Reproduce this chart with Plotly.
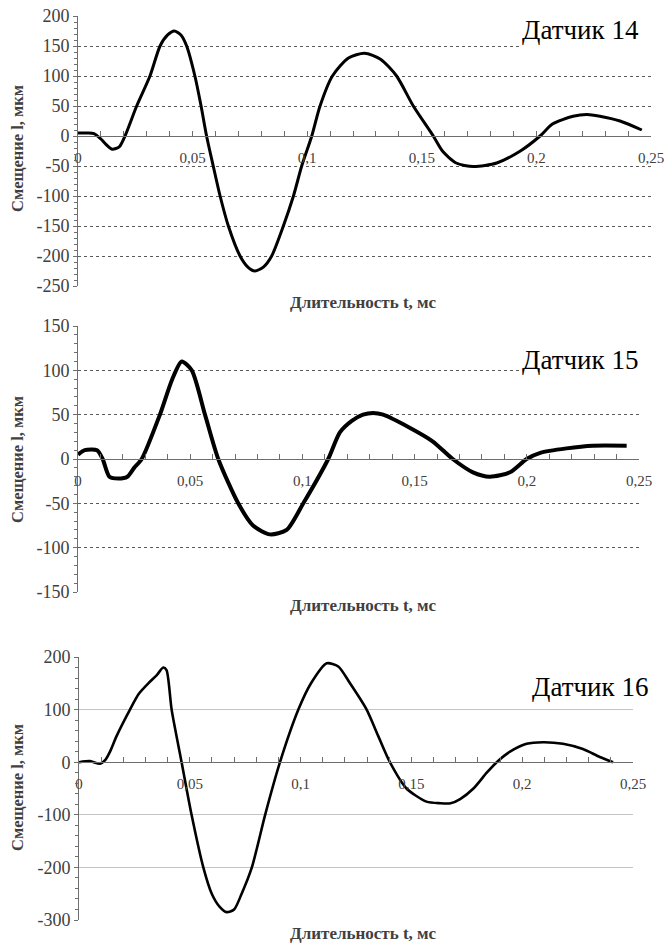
import plotly.graph_objects as go

# ---------------- data ----------------
t14 = [0, 0.004, 0.007, 0.010, 0.0125, 0.015, 0.018, 0.0205, 0.0256, 0.0314, 0.0358, 0.039,
       0.042, 0.045, 0.0474, 0.051, 0.0537, 0.0561, 0.059, 0.062, 0.0656, 0.0707, 0.074, 0.0772,
       0.081, 0.0845, 0.0896, 0.094, 0.0976, 0.102, 0.1056, 0.111, 0.118, 0.125, 0.132, 0.139,
       0.1463, 0.155, 0.159, 0.165, 0.1725, 0.1827, 0.193, 0.2016, 0.207, 0.216, 0.222, 0.2277,
       0.2365, 0.246]
v14 = [5, 5, 4, -5, -15, -22, -18, 0, 50, 100, 150, 168,
       175, 168, 150, 100, 50, 0, -50, -100, -150, -200, -218, -225,
       -218, -200, -150, -100, -50, 0, 50, 100, 130, 138, 128, 100,
       50, 0, -25, -45, -51, -45, -25, 0, 20, 33, 36, 33,
       25, 10]

t15 = [0, 0.003, 0.0085, 0.011, 0.014, 0.018, 0.022, 0.025, 0.0284, 0.0365, 0.042, 0.0462,
       0.0507, 0.0566, 0.0625, 0.0714, 0.078, 0.0855, 0.093, 0.1004, 0.1115, 0.1167, 0.122,
       0.127, 0.1315, 0.136, 0.148, 0.158, 0.167, 0.176, 0.1835, 0.1925, 0.1999, 0.206, 0.2177,
       0.2295, 0.2445]
v15 = [5, 10, 10, 0, -20, -22, -20, -10, 0, 50, 90, 110,
       100, 50, 0, -50, -75, -85, -80, -50, 0, 30, 43,
       50, 52, 50, 35, 20, 0, -15, -20, -15, 0, 7, 12,
       15, 15]

t16 = [0, 0.005, 0.0095, 0.012, 0.014, 0.017, 0.023, 0.027, 0.0313, 0.035, 0.038, 0.0395,
       0.0418, 0.0463, 0.0508, 0.0561, 0.0599, 0.0635, 0.0666, 0.070, 0.0734, 0.078, 0.084,
       0.0907, 0.099, 0.1047, 0.1118, 0.117, 0.1223, 0.1298, 0.135, 0.1403, 0.1478, 0.1568,
       0.163, 0.1677, 0.172, 0.178, 0.184, 0.1885, 0.1945, 0.202, 0.2094, 0.2184, 0.2274,
       0.235, 0.241]
v16 = [0, 2, -3, 5, 20, 50, 100, 130, 150, 165, 180, 175,
       100, 0, -100, -200, -250, -275, -285, -280, -250, -200, -100,
       0, 100, 150, 188, 182, 150, 100, 50, 0, -50, -75,
       -78, -78, -70, -50, -20, 0, 20, 35, 38, 35, 25,
       10, 0]

x_tickvals = [0, 0.05, 0.1, 0.15, 0.2, 0.25]
x_ticktext = ["0", "0,05", "0,1", "0,15", "0,2", "0,25"]

y14_ticks = [-250, -200, -150, -100, -50, 0, 50, 100, 150, 200]
y15_ticks = [-150, -100, -50, 0, 50, 100, 150]
y16_ticks = [-300, -200, -100, 0, 100, 200]

titles = ["Датчик 14", "Датчик 15", "Датчик 16"]
x_title = "Длительность t, мс"
y_title = "Смещение l, мкм"

# ---------------- layout geometry ----------------
W, H = 667, 948
SERIF = "'Liberation Serif', 'Times New Roman', Tinos, 'DejaVu Serif', serif"

panels = [
    dict(t=t14, v=v14, yt=y14_ticks, xpx=(78, 651), ypx=(16, 286), minor=10, lw=3,
         griddash="dot", gridcolor="#5a5a5a"),
    dict(t=t15, v=v15, yt=y15_ticks, xpx=(78, 639), ypx=(326, 592), minor=10, lw=4,
         griddash="dot", gridcolor="#5a5a5a"),
    dict(t=t16, v=v16, yt=y16_ticks, xpx=(79, 633), ypx=(657, 920), minor=20, lw=2.6,
         griddash="solid", gridcolor="#c4c4c4"),
]

fig = go.Figure()
layout = dict(width=W, height=H, margin=dict(l=0, r=0, t=0, b=0, autoexpand=False),
              paper_bgcolor="white", plot_bgcolor="white", showlegend=False,
              separators=", ", template="none", font=dict(family=SERIF))

for i, p in enumerate(panels):
    k = "" if i == 0 else str(i + 1)
    xd = [p["xpx"][0] / W, p["xpx"][1] / W]
    yd = [(H - p["ypx"][1]) / H, (H - p["ypx"][0]) / H]
    ymin, ymax = min(p["yt"]), max(p["yt"])
    zero_pos = yd[0] + (0 - ymin) / (ymax - ymin) * (yd[1] - yd[0])

    fig.add_trace(go.Scatter(x=p["t"], y=p["v"], mode="lines",
                             line=dict(color="black", width=p["lw"], shape="spline", smoothing=0.7),
                             xaxis="x" + k, yaxis="y" + k))

    layout["xaxis" + k] = dict(
        domain=xd, range=[0, 0.25], anchor="free", position=zero_pos, automargin=False,
        showgrid=False, zeroline=False, showline=True, linecolor="#6e6e6e", linewidth=1,
        tickmode="array", tickvals=x_tickvals, ticktext=x_ticktext,
        ticks="inside", ticklen=5, tickcolor="#6e6e6e",
        minor=dict(dtick=0.01, ticks="inside", ticklen=5, tickcolor="#6e6e6e", showgrid=False),
        ticklabelstandoff=8,
        tickfont=dict(family=SERIF, size=15, color="#404040"),
    )
    layout["yaxis" + k] = dict(
        domain=yd, range=[ymin, ymax], anchor="x" + k, automargin=False,
        showgrid=True, gridcolor=p["gridcolor"], griddash=p["griddash"], gridwidth=1,
        zeroline=False, showline=True, linecolor="#6e6e6e", linewidth=1,
        tickmode="array", tickvals=p["yt"], ticktext=[str(v) for v in p["yt"]],
        ticks="outside", ticklen=4, tickcolor="#6e6e6e",
        minor=dict(dtick=p["minor"], ticks="outside", ticklen=3, tickcolor="#6e6e6e",
                   showgrid=False),
        tickfont=dict(family=SERIF, size=18, color="#404040"),
    )

layout["annotations"] = [
    # panel titles
    dict(text=titles[0], xref="paper", yref="paper", x=520 / W, y=1 - 30 / H,
         xanchor="left", yanchor="middle", showarrow=False, align="left",
         width=145, height=40, bgcolor="white",
         font=dict(family=SERIF, size=27, color="black")),
    dict(text=titles[1], xref="paper", yref="paper", x=520 / W, y=1 - 360 / H,
         xanchor="left", yanchor="middle", showarrow=False, align="left",
         width=140, height=34, bgcolor="white",
         font=dict(family=SERIF, size=27, color="black")),
    dict(text=titles[2], xref="paper", yref="paper", x=530 / W, y=1 - 687 / H,
         xanchor="left", yanchor="middle", showarrow=False, align="left",
         font=dict(family=SERIF, size=27, color="black")),
]
for ycen in (149, 460, 788):
    layout["annotations"].append(dict(
        text="<b>" + y_title + "</b>", xref="paper", yref="paper", x=17 / W, y=1 - ycen / H,
        xanchor="center", yanchor="middle", showarrow=False, textangle=-90,
        font=dict(family=SERIF, size=16.5, color="#404040")))
for ycen in (302, 605, 933):
    layout["annotations"].append(dict(
        text="<b>" + x_title + "</b>", xref="paper", yref="paper", x=363 / W, y=1 - ycen / H,
        xanchor="center", yanchor="middle", showarrow=False,
        font=dict(family=SERIF, size=17, color="#404040")))

fig.update_layout(**layout)
fig.write_html("out.html", config={"displayModeBar": False},
               post_script="document.body.style.margin='0px';document.body.style.overflow='hidden';")
